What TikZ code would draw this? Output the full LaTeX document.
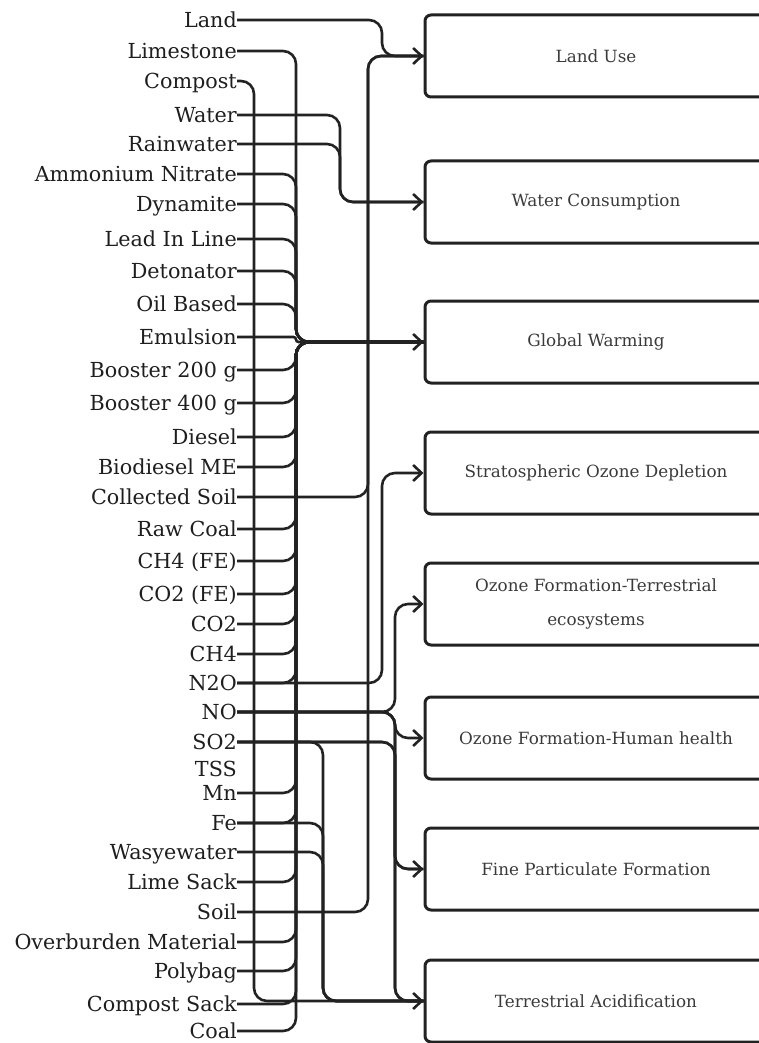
\documentclass[tikz,border=0pt]{standalone}
\usepackage{fontspec}
\setmainfont{DejaVu Serif}
\usetikzlibrary{arrows.meta,calc}
\definecolor{ink}{HTML}{222222}
\definecolor{labtxt}{HTML}{1E1E1E}
\definecolor{boxtxt}{HTML}{3A3A3A}
\begin{document}
\begin{tikzpicture}[x=1pt,y=-1pt,
  lab/.style={anchor=east, inner sep=0pt, text height=15pt, text depth=0pt,
              font=\fontsize{20.7}{24}\selectfont, text=labtxt},
  impact/.style={draw=ink, line width=3pt, rounded corners=6pt,
              minimum width=342pt, minimum height=82pt, inner sep=0pt,
              font=\fontsize{16.8}{34}\selectfont, text=boxtxt, align=center},
  conn/.style={draw=ink, line width=2.6pt, rounded corners=13pt},
  tip/.style={-{Straight Barb[length=8.5pt,width=16pt]}},
]
\useasboundingbox (0,0) rectangle (759,1043);

% impact category boxes
\node[impact] (lu)  at (596,56)   {Land Use};
\node[impact] (wc)  at (596,202)  {Water Consumption};
\node[impact] (gw)  at (596,342)  {Global Warming};
\node[impact] (sod) at (596,473)  {Stratospheric Ozone Depletion};
\node[impact] (oft) at (596,604)  {Ozone Formation-Terrestrial\\ecosystems};
\node[impact] (ofh) at (596,738)  {Ozone Formation-Human health};
\node[impact] (fpf) at (596,869)  {Fine Particulate Formation};
\node[impact] (ta)  at (596,1001) {Terrestrial Acidification};

% input labels
\node[lab] (land)        at (237,20)   {Land};
\node[lab] (limestone)   at (237,51)   {Limestone};
\node[lab] (compost)     at (237,81)   {Compost};
\node[lab] (water)       at (237,115)  {Water};
\node[lab] (rainwater)   at (237,144)  {Rainwater};
\node[lab] (ammonium)    at (237,174)  {Ammonium Nitrate};
\node[lab] (dynamite)    at (237,204)  {Dynamite};
\node[lab] (leadin)      at (237,239)  {Lead In Line};
\node[lab] (detonator)   at (237,271)  {Detonator};
\node[lab] (oilbased)    at (237,304)  {Oil Based};
\node[lab] (emulsion)    at (237,337)  {Emulsion};
\node[lab] (boostera)    at (237,370)  {Booster 200 g};
\node[lab] (boosterb)    at (237,403)  {Booster 400 g};
\node[lab] (diesel)      at (237,437)  {Diesel};
\node[lab] (biodiesel)   at (237,467)  {Biodiesel ME};
\node[lab] (csoil)       at (237,497)  {Collected Soil};
\node[lab] (rawcoal)     at (237,529)  {Raw Coal};
\node[lab] (chfe)        at (237,561)  {CH4 (FE)};
\node[lab] (cofe)        at (237,594)  {CO2 (FE)};
\node[lab] (cotwo)       at (237,624)  {CO2};
\node[lab] (chfour)      at (237,654)  {CH4};
\node[lab] (ntwoo)       at (237,683)  {N2O};
\node[lab] (nomon)       at (237,712)  {NO};
\node[lab] (sotwo)       at (237,742)  {SO2};
\node[lab] (tss)         at (237,769)  {TSS};
\node[lab] (mn)          at (237,793)  {Mn};
\node[lab] (fe)          at (237,823)  {Fe};
\node[lab] (waste)       at (237,852)  {Wasyewater};
\node[lab] (limesack)    at (237,882)  {Lime Sack};
\node[lab] (soil)        at (237,912)  {Soil};
\node[lab] (overburden)  at (237,942)  {Overburden Material};
\node[lab] (polybag)     at (237,971)  {Polybag};
\node[lab] (compostsack) at (237,1004) {Compost Sack};
\node[lab] (coal)        at (237,1031) {Coal};

% trunk columns
\coordinate (xc) at (254,0);
\coordinate (xg) at (296,0);
\coordinate (xt) at (323,0);
\coordinate (xw) at (340,0);
\coordinate (xl) at (368,0);
\coordinate (xs) at (382,0);
\coordinate (xn) at (395,0);

% Land Use
\draw[conn,tip] (land.east) -- (land.east -| xs) -- (xs |- lu.west) -- (lu.west);
\foreach \s in {csoil,soil}
  \draw[conn] (\s.east) -- (\s.east -| xl) -- (xl |- lu.west) -- (lu.west);

% Water Consumption
\draw[conn,tip] (water.east) -- (water.east -| xw) -- (xw |- wc.west) -- (wc.west);
\draw[conn] (rainwater.east) -- (rainwater.east -| xw) -- (xw |- wc.west) -- (wc.west);

% Global Warming
\foreach \s in {limestone,ammonium,dynamite,leadin,detonator,oilbased,
                boostera,boosterb,diesel,biodiesel,rawcoal,chfe,cofe,cotwo,
                chfour,ntwoo,mn,fe,limesack,overburden,polybag,compostsack,coal}
  \draw[conn] (\s.east) -- (\s.east -| xg) -- (xg |- gw.west) -- (gw.west);
\draw[conn,tip, rounded corners=2.5pt] (emulsion.east) -- (emulsion.east -| xg)
      -- (xg |- gw.west) -- (gw.west);

% Stratospheric Ozone Depletion
\draw[conn,tip] (ntwoo.east) -- (ntwoo.east -| xs) -- (xs |- sod.west) -- (sod.west);

% Ozone formation
\draw[conn,tip] (nomon.east) -- (nomon.east -| xn) -- (xn |- oft.west) -- (oft.west);
\draw[conn,tip] (nomon.east) -- (nomon.east -| xn) -- (xn |- ofh.west) -- (ofh.west);

% Fine Particulate Formation
\draw[conn,tip] (nomon.east) -- (nomon.east -| xn) -- (xn |- fpf.west) -- (fpf.west);
\draw[conn] (sotwo.east) -- (sotwo.east -| xn) -- (xn |- fpf.west) -- (fpf.west);

% Terrestrial Acidification
\draw[conn,tip] (compost.east) -- (compost.east -| xc) -- (xc |- ta.west) -- (ta.west);
\foreach \s in {sotwo,fe,waste}
  \draw[conn] (\s.east) -- (\s.east -| xt) -- (xt |- ta.west) -- (ta.west);
\foreach \s in {nomon,sotwo}
  \draw[conn] (\s.east) -- (\s.east -| xn) -- (xn |- ta.west) -- (ta.west);
\end{tikzpicture}
\end{document}
